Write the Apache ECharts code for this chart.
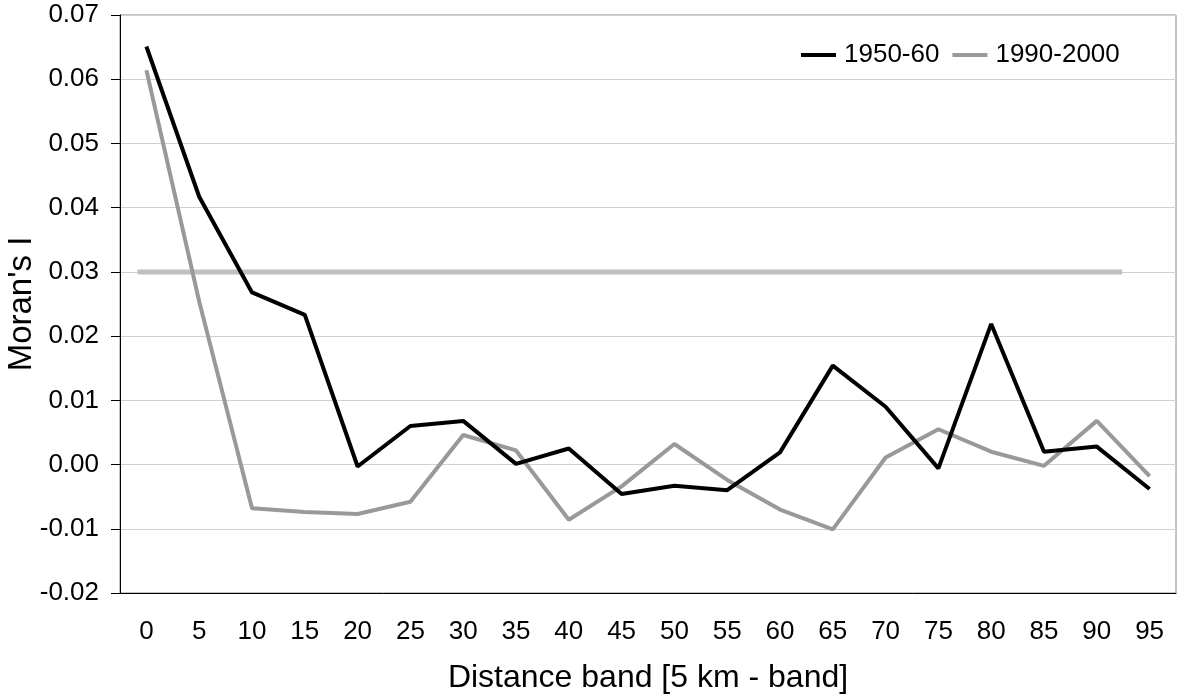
<!DOCTYPE html>
<html>
<head>
<meta charset="utf-8">
<script src="https://cdn.jsdelivr.net/npm/echarts@6/dist/echarts.min.js"></script>
<style>
  html, body { margin: 0; padding: 0; background: #fff; }
  #chart { width: 1177px; height: 698px; }
</style>
</head>
<body>
<div id="chart"></div>
<script>
// distance bands (km)
const bands = ['0', '5', '10', '15', '20', '25', '30', '35', '40', '45',
               '50', '55', '60', '65', '70', '75', '80', '85', '90', '95']

// Moran's I per band
const moran1950 = [0.0651, 0.0417, 0.0268, 0.0233, -0.0003, 0.0060, 0.0068, 0.0001, 0.0025, -0.0046,
                   -0.0033, -0.0040, 0.0019, 0.0154, 0.0090, -0.0006, 0.0219, 0.0020, 0.0028, -0.0038]
const moran1990 = [0.0614, 0.0254, -0.0068, -0.0074, -0.0077, -0.0058, 0.0046, 0.0022, -0.0086, -0.0034,
                   0.0032, -0.0024, -0.0070, -0.0101, 0.0011, 0.0055, 0.0020, -0.0002, 0.0068, -0.0018]

// reference level, drawn on a hidden 0..20 axis
const refX = [0.33, 18.98]
const refY = [0.03, 0.03]

const font = '"Liberation Sans", Arial, sans-serif'

const chart = echarts.init(document.getElementById('chart'))
chart.setOption({
    animation: false,
    textStyle: { fontFamily: font },
    grid: {
        left: 120, top: 15, right: 1, bottom: 105,
        outerBoundsMode: 'none',
        containLabel: false,
        show: true, borderColor: '#888', borderWidth: 1
    },
    legend: {
        data: ['1950-60', '1990-2000'],
        left: 796, top: 37,
        icon: 'rect', itemWidth: 35, itemHeight: 4, itemGap: 13,
        textStyle: { fontSize: 26, color: '#000', fontFamily: font, padding: [0, 0, 0, 3] }
    },
    xAxis: [
        {
            type: 'category',
            data: bands,
            boundaryGap: true,
            name: 'Distance band [5 km - band]',
            nameLocation: 'middle',
            nameGap: 69,
            nameMoveOverlap: false,
            nameTextStyle: { fontSize: 32, color: '#000', fontFamily: font },
            axisLine: { onZero: false, lineStyle: { color: '#000', width: 1 } },
            axisTick: { length: 9, lineStyle: { color: '#000' } },
            axisLabel: { fontSize: 26, color: '#000', margin: 26, interval: 0 },
            splitLine: { show: false }
        },
        { type: 'value', min: 0, max: 20, show: false }
    ],
    yAxis: {
        type: 'value',
        min: -0.02, max: 0.07, interval: 0.01,
        name: "Moran's I",
        nameLocation: 'middle',
        nameGap: 82,
        nameMoveOverlap: false,
        nameTextStyle: { fontSize: 33, color: '#000', fontFamily: font },
        axisLine: { show: true, onZero: false, lineStyle: { color: '#000', width: 1 } },
        axisTick: { show: true, length: 9, lineStyle: { color: '#000' } },
        axisLabel: {
            fontSize: 26, color: '#000', margin: 21,
            formatter: v => v.toFixed(2)
        },
        splitLine: { lineStyle: { color: '#d0d0d0', width: 1 } }
    },
    series: [
        {
            name: 'ref',
            type: 'line',
            xAxisIndex: 1,
            data: refX.map((x, i) => [x, refY[i]]),
            showSymbol: false,
            silent: true,
            lineStyle: { color: '#c0c0c0', width: 5 },
            z: 1
        },
        {
            name: '1950-60',
            type: 'line',
            data: moran1950,
            showSymbol: false,
            itemStyle: { color: '#000' },
            lineStyle: { color: '#000', width: 4 },
            z: 3
        },
        {
            name: '1990-2000',
            type: 'line',
            data: moran1990,
            showSymbol: false,
            itemStyle: { color: '#999' },
            lineStyle: { color: '#999', width: 4 },
            z: 2
        }
    ]
})
</script>
</body>
</html>
